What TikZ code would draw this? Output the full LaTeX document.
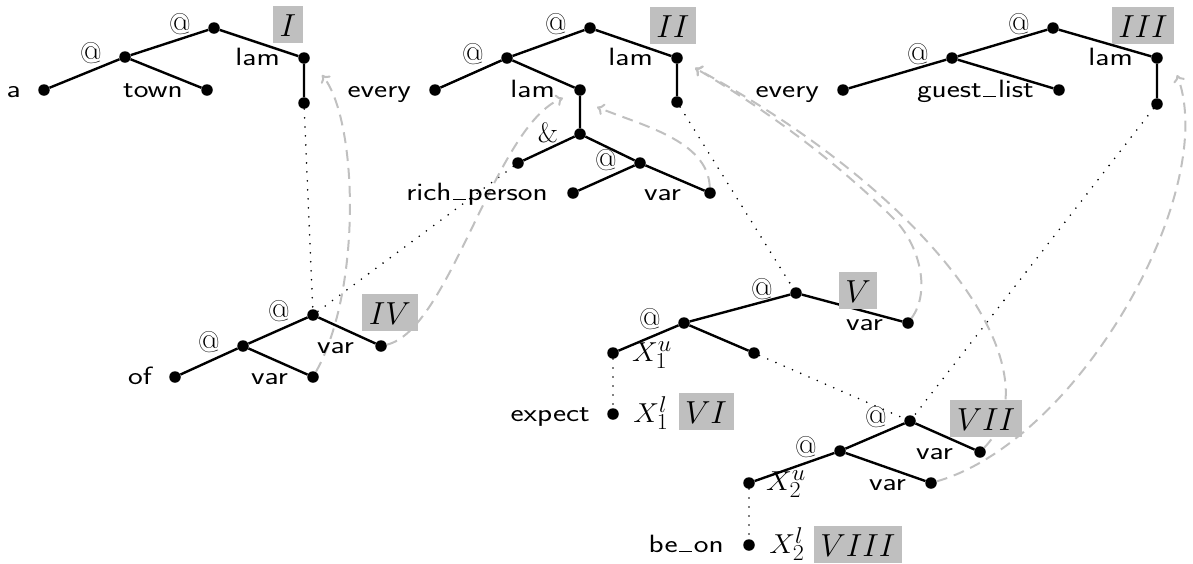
\documentclass[tikz,border=0pt]{standalone}
\usepackage{fontspec}
\usepackage{graphicx}
\usetikzlibrary{arrows.meta,calc}
\definecolor{lightdash}{RGB}{192,192,192}
\definecolor{boxgray}{RGB}{191,191,191}
\newcommand{\stx}[1]{\scalebox{1.25}[1]{#1}}
\newcommand{\stn}[1]{\scalebox{1.3}[1.28]{#1}}
\newcommand{\stm}[1]{\scalebox{1.16}[1.1]{#1}}
\newcommand{\usc}{\kern.05em\rule{.42em}{1.5pt}\kern.05em}
\tikzset{
  tdot/.style={circle, fill=black, inner sep=0pt, minimum size=11.5pt},
  treeline/.style={line width=2.4pt},
  lbl/.style={font=\fontsize{25}{29}\selectfont\sffamily, inner sep=0pt, anchor=base east},
  atl/.style={font=\fontsize{30}{34}\selectfont\rmfamily, inner sep=0pt},
  ampl/.style={font=\fontsize{28}{32}\selectfont\rmfamily, inner sep=0pt},
  xl/.style={font=\fontsize{24.88}{30}\selectfont, inner sep=0pt},
  numbox/.style={fill=boxgray, font=\fontsize{24.88}{30}\selectfont, inner xsep=6.5pt, inner ysep=1.5pt, text height=29pt, text depth=5pt},
  dotline/.style={line width=1.8pt, line cap=round, dash pattern=on 0pt off 9pt},
  mvarrow/.style={draw=lightdash, line width=2pt, dash pattern=on 11pt off 7pt, -{To[length=7pt,width=12pt]}}
}
\begin{document}
\begin{tikzpicture}[x=1pt,y=-1pt]
\useasboundingbox (0,0) rectangle (1193,563);
% ---- dots: tree I
\node[tdot] (ir) at (214,28) {};
\node[tdot] (il) at (125,57) {};
\node[tdot] (ia) at (44,90) {};
\node[tdot] (itown) at (207,90) {};
\node[tdot] (ilam) at (304,58) {};
\node[tdot] (ilamc) at (304,103) {};
% tree II
\node[tdot] (iir) at (590,28) {};
\node[tdot] (iil) at (507,58) {};
\node[tdot] (iievery) at (435,90) {};
\node[tdot] (iilami) at (580,90) {};
\node[tdot] (iiamp) at (580,134) {};
\node[tdot] (iiampl) at (518,163) {};
\node[tdot] (iiat) at (640,163) {};
\node[tdot] (iirp) at (573,193) {};
\node[tdot] (iivar) at (710,193) {};
\node[tdot] (iilamt) at (677,58) {};
\node[tdot] (iilamtc) at (677,102) {};
% tree III
\node[tdot] (iiir) at (1053,28) {};
\node[tdot] (iiil) at (952,58) {};
\node[tdot] (iiievery) at (843,90) {};
\node[tdot] (iiigl) at (1059,90) {};
\node[tdot] (iiilam) at (1157,58) {};
\node[tdot] (iiilamc) at (1157,104) {};
% tree IV
\node[tdot] (ivr) at (313,315) {};
\node[tdot] (ivl) at (243,346) {};
\node[tdot] (ivof) at (175,377) {};
\node[tdot] (ivvi) at (313,377) {};
\node[tdot] (ivvr) at (381,346) {};
% tree V
\node[tdot] (vr) at (796,293) {};
\node[tdot] (vl) at (684,323) {};
\node[tdot] (vx) at (613,353) {};
\node[tdot] (vri) at (754,353) {};
\node[tdot] (vvar) at (908,323) {};
% VI
\node[tdot] (vie) at (613,414) {};
% tree VII
\node[tdot] (viir) at (910,421) {};
\node[tdot] (viil) at (840,451) {};
\node[tdot] (viix) at (749,483) {};
\node[tdot] (viivi) at (931,483) {};
\node[tdot] (viivar) at (980,452) {};
% VIII
\node[tdot] (viiib) at (749,545) {};

% ---- tree edges
\draw[treeline] (ir) -- (il) (ir) -- (ilam) (il) -- (ia) (il) -- (itown) (ilam) -- (ilamc);
\draw[treeline] (iir) -- (iil) (iir) -- (iilamt) (iil) -- (iievery) (iil) -- (iilami)
  (iilami) -- (iiamp) (iiamp) -- (iiampl) (iiamp) -- (iiat) (iiat) -- (iirp) (iiat) -- (iivar)
  (iilamt) -- (iilamtc);
\draw[treeline] (iiir) -- (iiil) (iiir) -- (iiilam) (iiil) -- (iiievery) (iiil) -- (iiigl) (iiilam) -- (iiilamc);
\draw[treeline] (ivr) -- (ivl) (ivr) -- (ivvr) (ivl) -- (ivof) (ivl) -- (ivvi);
\draw[treeline] (vr) -- (vl) (vr) -- (vvar) (vl) -- (vx) (vl) -- (vri);
\draw[treeline] (viir) -- (viil) (viir) -- (viivar) (viil) -- (viix) (viil) -- (viivi);

% ---- dotted links
\draw[dotline] (ilamc) -- (ivr);
\draw[dotline] (iiampl) -- (ivr);
\draw[dotline] (iilamtc) -- (vr);
\draw[dotline] (vri) -- (viir);
\draw[dotline] (iiilamc) -- (viir);
\draw[dotline] (vx) -- (vie);
\draw[dotline] (viix) -- (viiib);

% ---- dashed movement arrows
\draw[mvarrow] (ivvi) .. controls (362,290) and (358,120) .. ($(ilam)+(18,17)$);
\draw[mvarrow] (ivvr) .. controls (450,330) and (495,125) .. ($(iilami)+(-17,8)$);
\draw[mvarrow] (iivar) .. controls (708,140) and (640,125) .. ($(iilami)+(17,17)$);
\draw[mvarrow] (vvar) .. controls (932,290) and (918,243) .. (894,219) .. controls (843,168) and (775,115) .. ($(iilamt)+(18,10)$);
\draw[mvarrow] (viivar) .. controls (1060,370) and (930,195) .. ($(iilamt)+(18,10)$);
\draw[mvarrow] (viivi) .. controls (1080,440) and (1220,190) .. ($(iiilam)+(20,17)$);

% ---- word labels
\node[lbl] (t-a) at (21,97) {\stx{a}};
\node[lbl] (t-town) at (183,97) {\stx{town}};
\node[lbl] (t-lam1) at (280,65) {\stx{lam}};
\node[lbl] (t-every2) at (411,97) {\stx{every}};
\node[lbl] (t-lam2i) at (555,97) {\stx{lam}};
\node[lbl] (t-rp) at (548,200) {\stx{rich\usc person}};
\node[lbl] (t-var2) at (681,200) {\stx{var}};
\node[lbl] (t-lam2t) at (653,65) {\stx{lam}};
\node[lbl] (t-every3) at (819,97) {\stx{every}};
\node[lbl] (t-gl) at (1034,97) {\stx{guest\usc list}};
\node[lbl] (t-lam3) at (1133,65) {\stx{lam}};
\node[lbl] (t-of) at (152,384) {\stx{of}};
\node[lbl] (t-var4i) at (288,384) {\stx{var}};
\node[lbl] (t-var4r) at (354,353) {\stx{var}};
\node[lbl] (t-var5) at (883,330) {\stx{var}};
\node[lbl] (t-expect) at (590,421) {\stx{expect}};
\node[lbl] (t-var7r) at (953,459) {\stx{var}};
\node[lbl] (t-var7i) at (906,490) {\stx{var}};
\node[lbl] (t-beon) at (724,552) {\stx{be\usc on}};

% ---- operator labels
\node[atl] (a-ir) at (180,24) {@};
\node[atl] (a-il) at (91,53) {@};
\node[atl] (a-iir) at (556,24) {@};
\node[atl] (a-iil) at (473,54) {@};
\node[atl] (a-iiat) at (606,160) {@};
\node[atl] (a-iiir) at (1019,24) {@};
\node[atl] (a-iiil) at (918,54) {@};
\node[atl] (a-ivr) at (279,311) {@};
\node[atl] (a-ivl) at (209,342) {@};
\node[atl] (a-vr) at (762,289) {@};
\node[atl] (a-vl) at (650,319) {@};
\node[atl] (a-viir) at (876,417) {@};
\node[atl] (a-viil) at (806,447) {@};
\node[ampl] (a-amp) at (548,133) {\&};

% ---- variable labels
\node[xl] (x1u) at (652,355) {\stm{$X_1^u$}};
\node[xl] (x1l) at (651,413) {\stm{$X_1^l$}};
\node[xl] (x2u) at (786,484) {\stm{$X_2^u$}};
\node[xl] (x2l) at (787,544) {\stm{$X_2^l$}};

% ---- numbered boxes
\node[numbox] (b1) at (288,24.5) {\stn{$I$}};
\node[numbox] (b2) at (673,25) {\stn{$II$}};
\node[numbox] (b3) at (1143,25) {\stn{$III$}};
\node[numbox] (b4) at (390,312) {\stn{$IV$}};
\node[numbox] (b5) at (858,290) {\stn{$V$}};
\node[numbox] (b6) at (706,411) {\stn{$VI$}};
\node[numbox] (b7) at (986,418.5) {\stn{$VII$}};
\node[numbox] (b8) at (858,544.5) {\stn{$VIII$}};
\end{tikzpicture}
\end{document}
